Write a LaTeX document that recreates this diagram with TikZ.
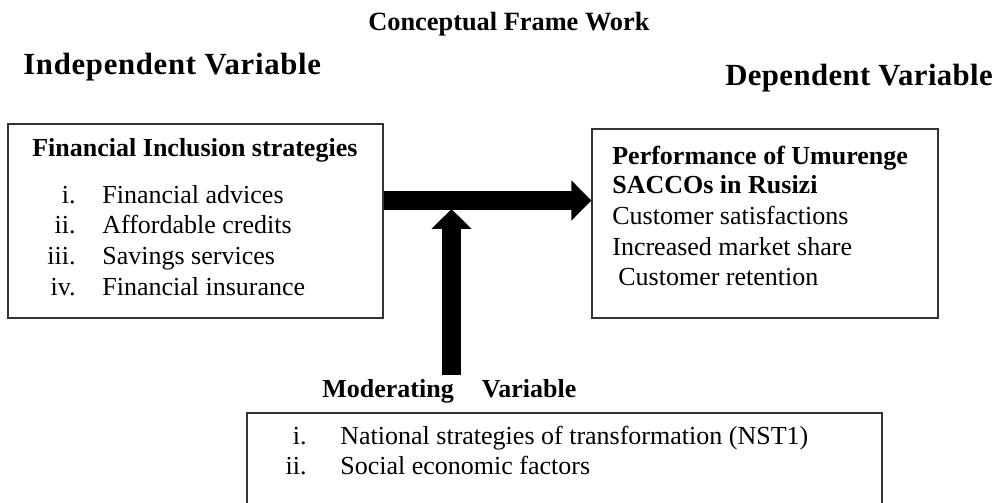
\documentclass[tikz,border=0pt]{standalone}
\usepackage{fontspec}
\setmainfont{Liberation Serif}
\usetikzlibrary{arrows.meta}

\begin{document}
\begin{tikzpicture}[x=0.02cm, y=-0.02cm,
    box/.style={rectangle, draw=black!80, line width=0.7pt, inner sep=0pt},
    txt/.style={anchor=base west, inner sep=0pt, font=\fontsize{14.8}{17}\selectfont},
    num/.style={anchor=base east, inner sep=0pt, font=\fontsize{14.8}{17}\selectfont},
    head/.style={anchor=base west, inner sep=0pt, font=\fontsize{17.5}{20}\selectfont\bfseries},
    fatarrow/.style={line width=0.38cm, -{Triangle[length=0.4cm, width=0.78cm]}}]
    \useasboundingbox (0,0) rectangle (998,503);

    % Headings
    \node[txt, font=\fontsize{15}{18}\selectfont\bfseries] (TITLE) at (368,31) {Conceptual Frame Work};
    \node[head] (INDEPHEAD) at (23,75) {\addfontfeature{LetterSpace=2.3}Independent Variable};
    \node[head] (DEPHEAD) at (725,86) {\addfontfeature{LetterSpace=1.3}Dependent Variable};

    % Independent variable box
    \node[box, minimum width=7.5cm, minimum height=3.88cm] (INDEP) at (195.5,221) {};
    \node[txt, font=\fontsize{14.8}{17}\selectfont\bfseries] (INDEPTITLE) at (32,157) {Financial Inclusion strategies};
    \node[num] (N1) at (76,204) {i.};
    \node[txt] (S1) at (102,204) {Financial advices};
    \node[num] (N2) at (76,234) {ii.};
    \node[txt] (S2) at (102,234) {Affordable credits};
    \node[num] (N3) at (76,265) {iii.};
    \node[txt] (S3) at (102,265) {Savings services};
    \node[num] (N4) at (76,296) {iv.};
    \node[txt] (S4) at (102,296) {Financial insurance};

    % Dependent variable box
    \node[box, minimum width=6.92cm, minimum height=3.78cm] (DEP) at (765,223.5) {};
    \node[txt, font=\fontsize{14.8}{17}\selectfont\bfseries] (DEPT1) at (612,165) {Performance of Umurenge};
    \node[txt, font=\fontsize{14.8}{17}\selectfont\bfseries] (DEPT2) at (612,194) {SACCOs in Rusizi};
    \node[txt] (P1) at (612,225) {Customer satisfactions};
    \node[txt] (P2) at (612,256) {Increased market share};
    \node[txt] (P3) at (618,286) {Customer retention};

    % Moderating variable box
    \node[txt, font=\fontsize{14.8}{17}\selectfont\bfseries] (MODHEAD) at (322,398) {Moderating\hspace{16pt}Variable};
    \node[box, minimum width=12.7cm, minimum height=2.2cm] (MOD) at (564.5,468) {};
    \node[num] (M1N) at (307,444) {i.};
    \node[txt] (M1) at (340,444) {National strategies of transformation (NST1)};
    \node[num] (M2N) at (307,474) {ii.};
    \node[txt] (M2) at (340,474) {Social economic factors};

    % Arrows
    \coordinate (LEVEL) at (0,200.5);
    \coordinate (MODFOOT) at (451.5,375);
    \coordinate (MODTIP) at (451.5,209);
    \draw[fatarrow] (INDEP.east |- LEVEL) -- (DEP.west |- LEVEL);
    \draw[fatarrow] (MODFOOT) -- (MODTIP);
\end{tikzpicture}
\end{document}
